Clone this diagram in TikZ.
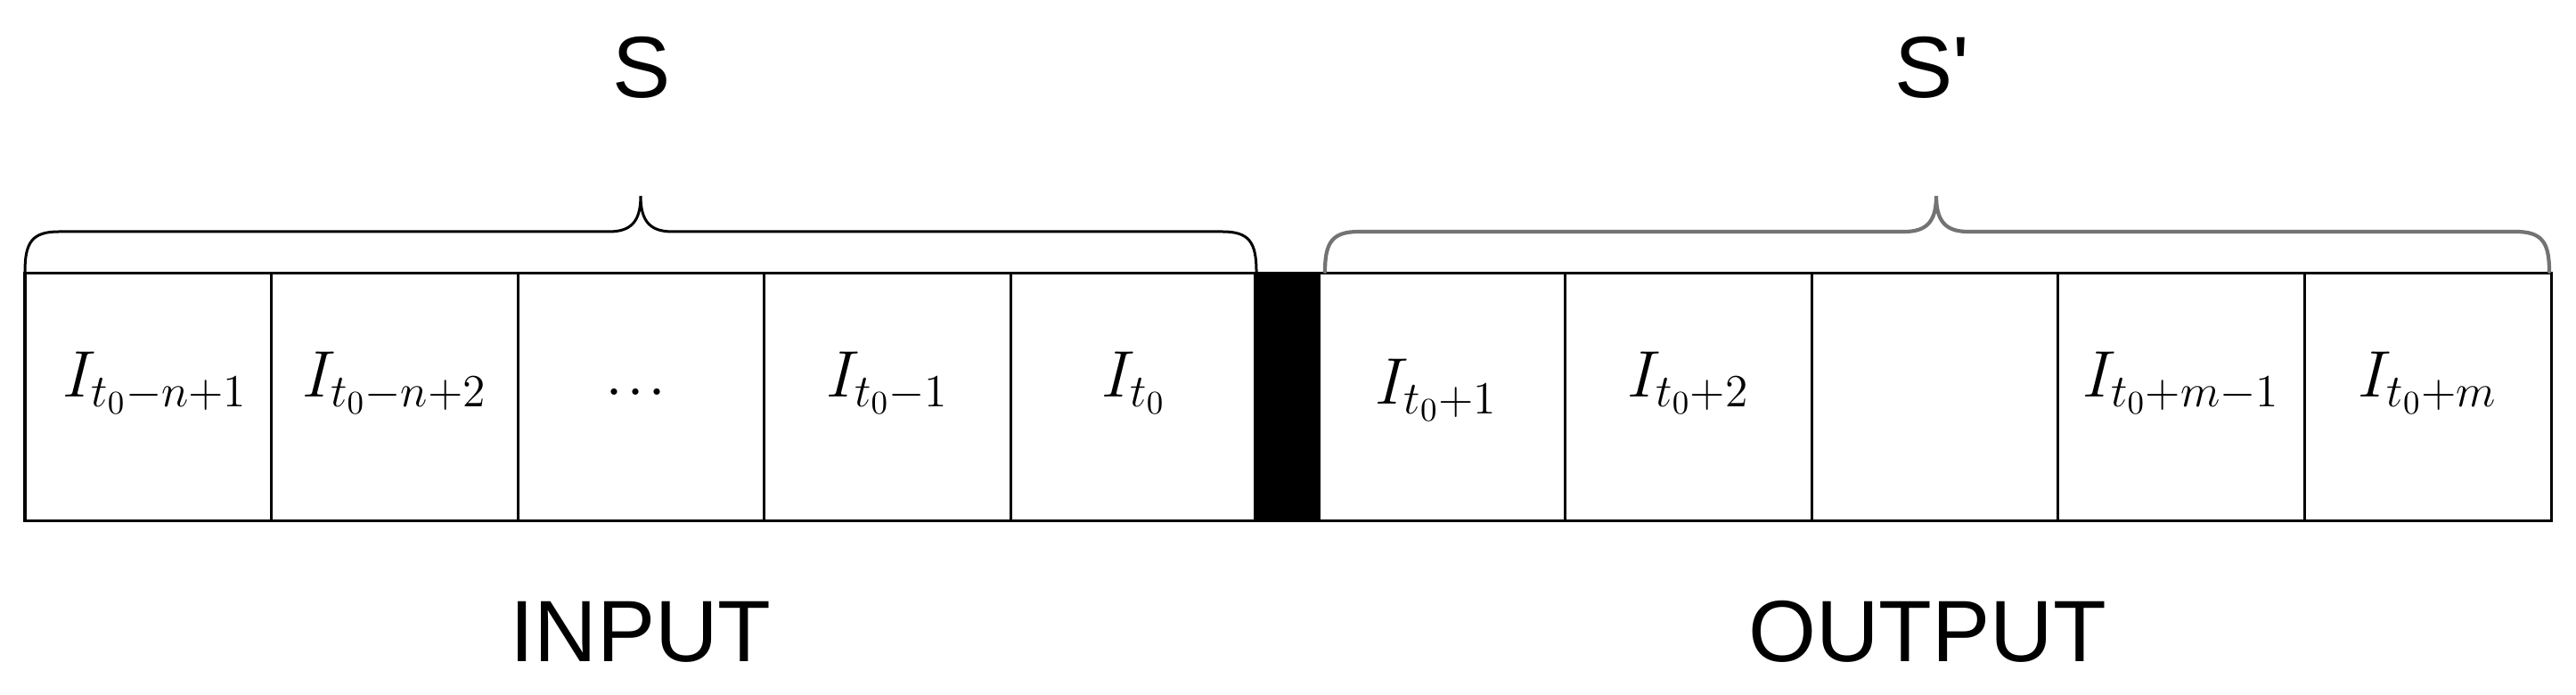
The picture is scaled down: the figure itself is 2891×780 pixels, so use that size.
\RequirePackage{fix-cm}
\documentclass[tikz,border=0pt]{standalone}
\usepackage{fontspec}
\setmainfont{Liberation Sans}
\usetikzlibrary{calc}
\newcommand{\mybrace}[4][]{\draw[bracestyle,#1] (#2,305) .. controls (#2,272) and (#2+8,260) .. (#2+38,260) -- (#4-36,260) .. controls (#4-12,260) and (#4,250) .. (#4,220) .. controls (#4,250) and (#4+12,260) .. (#4+36,260) -- (#3-38,260) .. controls (#3-8,260) and (#3,272) .. (#3,305);}
\begin{document}
\begin{tikzpicture}[x=0.01cm,y=-0.01cm,
  cell/.style={draw, line width=0.3mm, minimum width=2.766cm, minimum height=2.77cm, inner sep=0pt, outer sep=0pt, anchor=north west},
  lbl/.style={font=\fontsize{21}{25}\selectfont, anchor=base, inner sep=0pt},
  big/.style={font=\fontsize{27.8}{33}\selectfont, anchor=base, inner sep=0pt},
  bracestyle/.style={line width=0.3mm, line cap=round}]
\useasboundingbox (0,0) rectangle (2891,780);
% input cells
\node[cell] (c1) at (28,307) {};
\node[cell] (c2) at (304.6,307) {};
\node[cell] (c3) at (581.2,307) {};
\node[cell] (c4) at (857.8,307) {};
\node[cell] (c5) at (1134.4,307) {};
% separator
\node[cell, fill=black, minimum width=0.72cm] (blk) at (1408,307) {};
% output cells
\node[cell] (d1) at (1480,307) {};
\node[cell] (d2) at (1756.6,307) {};
\node[cell] (d3) at (2033.2,307) {};
\node[cell] (d4) at (2309.8,307) {};
\node[cell] (d5) at (2586.4,307) {};
% labels
\node[lbl] (l1) at ($(c1.center)+(8,0)$) {$I_{t_0-n+1}$};
\node[lbl] (l2) at (c2.center) {$I_{t_0-n+2}$};
\node[lbl] (l3) at ($(c3.center)+(-6,-2)$) {$.\mkern1mu.\mkern1mu.$};
\node[lbl] (l4) at (c4.center) {$I_{t_0-1}$};
\node[lbl] (l5) at (c5.center) {$I_{t_0}$};
\node[lbl] (m1) at ($(d1.center)+(-6,8)$) {$I_{t_0+1}$};
\node[lbl] (m2) at (d2.center) {$I_{t_0+2}$};
\node[lbl] (m4) at (d4.center) {$I_{t_0+m-1}$};
\node[lbl] (m5) at (d5.center) {$I_{t_0+m}$};
% braces
\mybrace{28}{1410}{719}
\mybrace[black!55, line width=0.42mm]{1487}{2861}{2173}
% titles
\node[big] (s) at (720,110) {S};
\node[big] (sp) at (2168,110) {S\textquotesingle};
\node[big] (inp) at (719,743) {INPUT};
\node[big] (outp) at (2163,743) {OUTPUT};
\end{tikzpicture}
\end{document}
